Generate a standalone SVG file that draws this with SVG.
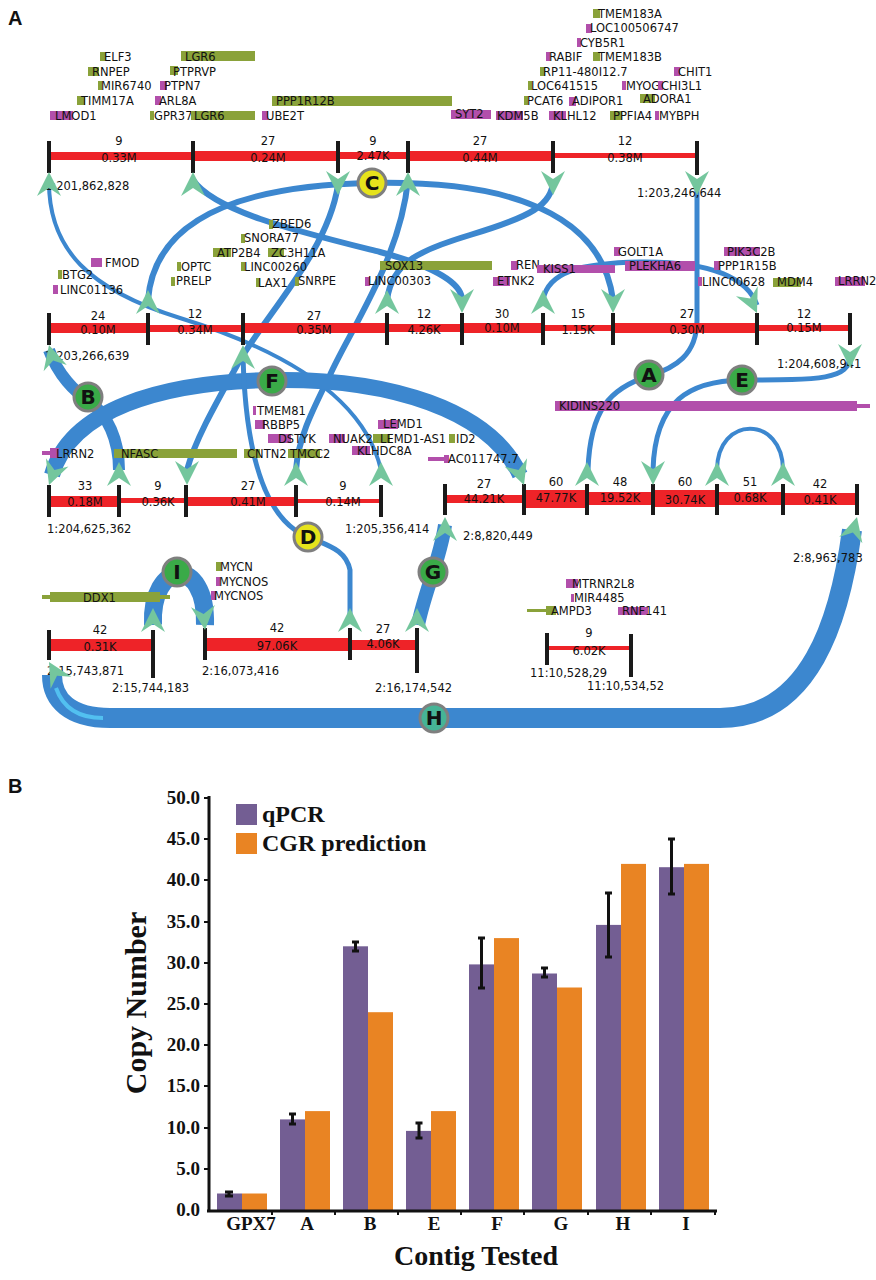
<svg xmlns="http://www.w3.org/2000/svg" width="876" height="1280" viewBox="0 0 876 1280">
<style>
.g{fill:#8aa23a}.m{fill:#b24fab}
.t{font-family:"DejaVu Sans",sans-serif;font-size:11.5px;fill:#111}
.c{text-anchor:middle}
.r{fill:#ee2328}
.k{stroke:#1a1a1a;stroke-width:4}
.cn{fill:none;stroke:#3c87cf;stroke-linecap:butt}
.ah{fill:#74c69d}
.cg{fill:#3aaa48;stroke:#7f7f7f;stroke-width:3}
.cy{fill:#e6e31c;stroke:#7f7f7f;stroke-width:3}
.ch{fill:#46b496;stroke:#7f7f7f;stroke-width:3}
.cl{font-family:"DejaVu Sans",sans-serif;font-weight:bold;font-size:20px;fill:#111;text-anchor:middle}
.pl{font-family:"Liberation Sans",sans-serif;font-weight:bold;font-size:20px;fill:#111}
.ser{font-family:"Liberation Serif",serif;font-weight:bold;fill:#111}
.pu{fill:#735e93}.or{fill:#e98423}
.eb{stroke:#111;stroke-width:3}
</style>
<defs>
<path id="ah" class="ah" d="M0,0 L12,24 L0,16 L-12,24 Z"/>
</defs>

<text class="pl" x="8" y="25">A</text>
<text class="pl" x="8" y="793">B</text>

<!-- connectors -->
<g id="connectors">
<path class="cn" stroke-width="4" d="M49,180 C48,250 90,290 180,318 C290,352 365,400 381,470"/>
<path class="cn" stroke-width="6" d="M193,180 C215,212 300,232 380,252 C440,268 462,285 462,300"/>
<path class="cn" stroke-width="6" d="M148,300 C155,210 260,185 372,183 C480,181 600,200 613,300"/>
<path class="cn" stroke-width="6" d="M338,185 C328,250 270,310 240,360 C215,405 195,440 187,470"/>
<path class="cn" stroke-width="6" d="M408,180 C400,260 350,330 330,375 C310,415 298,440 296,470"/>
<path class="cn" stroke-width="6" d="M387,300 C392,262 420,250 470,235 C530,217 553,205 553,180"/>
<path class="cn" stroke-width="5" d="M697,180 L697,320 C697,355 675,368 649,376 C610,388 590,410 588,470"/>
<path class="cn" stroke-width="5" d="M543,300 C548,272 580,263 640,262 C715,261 748,280 757,305"/>
<path class="cn" stroke-width="5" d="M850,355 C850,380 820,380 742,380 C690,381 655,400 653,470"/>
<path class="cn" stroke-width="12" d="M49,350 C58,375 75,392 88,400 C108,415 119,440 119,470"/>
<path class="cn" stroke-width="16" d="M52,475 C70,410 160,382 272,380 C390,378 490,410 520,475"/>
<path class="cn" stroke-width="5" d="M243,355 C245,440 260,505 295,530 C320,545 345,545 350,570 L350,620"/>
<path class="cn" stroke-width="4" d="M717,470 C717,415 783,415 783,470"/>
<path class="cn" stroke-width="20" d="M852,530 C840,620 810,718 720,718 L110,718 C70,718 52,700 52,675"/>
<path fill="none" stroke="#52c0f0" stroke-width="4" d="M103,718 C75,718 62,705 56,688"/>
<path class="cn" stroke-width="14" d="M445,525 C440,560 425,590 418,625"/>
<path class="cn" stroke-width="18" d="M153,625 C150,560 207,555 205,625"/>
</g>

<!-- gene annotations -->
<g id="genes">
<rect class="g" x="100" y="52" width="6" height="9"/><text class="t" x="104" y="61">ELF3</text>
<rect class="g" x="88" y="67" width="11" height="9"/><text class="t" x="92" y="76">RNPEP</text>
<rect class="g" x="98" y="81" width="4" height="9"/><text class="t" x="101" y="90">MIR6740</text>
<rect class="g" x="77" y="96" width="8" height="9"/><text class="t" x="81" y="105">TIMM17A</text>
<rect class="m" x="50" y="111" width="23" height="9"/><text class="t" x="55" y="120">LMOD1</text>
<rect class="g" x="181" y="51" width="74" height="10"/><text class="t" x="185" y="61">LGR6</text>
<rect class="g" x="170" y="66" width="8" height="9"/><text class="t" x="173" y="76">PTPRVP</text>
<rect class="m" x="160" y="81" width="7" height="9"/><text class="t" x="164" y="90">PTPN7</text>
<rect class="m" x="155" y="96" width="6" height="9"/><text class="t" x="159" y="105">ARL8A</text>
<rect class="g" x="150" y="111" width="4" height="9"/><text class="t" x="154" y="120">GPR37L1</text>
<rect class="g" x="191" y="111" width="64" height="9"/><text class="t" x="194" y="120">LGR6</text>
<rect class="g" x="272" y="96" width="180" height="10"/><text class="t" x="276" y="105">PPP1R12B</text>
<rect class="m" x="262" y="111" width="6" height="9"/><text class="t" x="266" y="120">UBE2T</text>
<rect class="m" x="451" y="110" width="40" height="9"/><text class="t" x="455" y="118">SYT2</text>
<rect class="m" x="496" y="111" width="27" height="9"/><text class="t" x="497" y="120">KDM5B</text>
<rect class="m" x="549" y="111" width="17" height="9"/><text class="t" x="553" y="120">KLHL12</text>
<rect class="g" x="610" y="111" width="12" height="9"/><text class="t" x="613" y="120">PPFIA4</text>
<rect class="m" x="655" y="111" width="4" height="9"/><text class="t" x="659" y="120">MYBPH</text>
<rect class="g" x="524" y="96" width="4" height="9"/><text class="t" x="527" y="105">PCAT6</text>
<rect class="m" x="569" y="97" width="7" height="9"/><text class="t" x="572" y="105">ADIPOR1</text>
<rect class="g" x="640" y="94" width="15" height="9"/><text class="t" x="643" y="103">ADORA1</text>
<rect class="g" x="528" y="81" width="4" height="9"/><text class="t" x="531" y="90">LOC641515</text>
<rect class="m" x="622" y="81" width="4" height="9"/><text class="t" x="626" y="90">MYOG</text>
<rect class="m" x="658" y="81" width="5" height="9"/><text class="t" x="661" y="90">CHI3L1</text>
<rect class="g" x="540" y="67" width="5" height="9"/><text class="t" x="543" y="76">RP11-480I12.7</text>
<rect class="m" x="674" y="67" width="6" height="9"/><text class="t" x="678" y="76">CHIT1</text>
<rect class="m" x="546" y="52" width="4" height="9"/><text class="t" x="549" y="61">RABIF</text>
<rect class="g" x="593" y="52" width="7" height="9"/><text class="t" x="598" y="61">TMEM183B</text>
<rect class="m" x="577" y="38" width="4" height="9"/><text class="t" x="580" y="47">CYB5R1</text>
<rect class="m" x="586" y="24" width="6" height="9"/><text class="t" x="590" y="32">LOC100506747</text>
<rect class="g" x="593" y="9" width="7" height="9"/><text class="t" x="598" y="18">TMEM183A</text>

<rect class="g" x="269" y="220" width="4" height="9"/><text class="t" x="272" y="228">ZBED6</text>
<rect class="g" x="241" y="234" width="4" height="9"/><text class="t" x="244" y="242">SNORA77</text>
<rect class="g" x="213" y="248" width="18" height="9"/><text class="t" x="217" y="257">ATP2B4</text>
<rect class="g" x="268" y="248" width="16" height="9"/><text class="t" x="271" y="257">ZC3H11A</text>
<rect class="m" x="91" y="258" width="11" height="9"/><text class="t" x="105" y="267">FMOD</text>
<rect class="g" x="177" y="262" width="4" height="9"/><text class="t" x="181" y="271">OPTC</text>
<rect class="g" x="241" y="262" width="4" height="9"/><text class="t" x="244" y="271">LINC00260</text>
<rect class="g" x="58" y="270" width="4" height="9"/><text class="t" x="62" y="279">BTG2</text>
<rect class="g" x="171" y="277" width="4" height="9"/><text class="t" x="176" y="285">PRELP</text>
<rect class="g" x="256" y="278" width="4" height="9"/><text class="t" x="258" y="287">LAX1</text>
<rect class="g" x="295" y="277" width="4" height="9"/><text class="t" x="298" y="285">SNRPE</text>
<rect class="m" x="53" y="285" width="5" height="9"/><text class="t" x="60" y="294">LINC01136</text>
<rect class="g" x="380" y="261" width="112" height="9"/><text class="t" x="385" y="270">SOX13</text>
<rect class="m" x="365" y="277" width="5" height="9"/><text class="t" x="368" y="285">LINC00303</text>
<rect class="m" x="614" y="247" width="6" height="9"/><text class="t" x="618" y="256">GOLT1A</text>
<rect class="m" x="724" y="247" width="36" height="9"/><text class="t" x="727" y="256">PIK3C2B</text>
<rect class="m" x="511" y="261" width="7" height="9"/><text class="t" x="516" y="269">REN</text>
<rect class="m" x="537" y="265" width="78" height="8"/><text class="t" x="543" y="273">KISS1</text>
<rect class="m" x="625" y="261" width="70" height="10"/><text class="t" x="629" y="270">PLEKHA6</text>
<rect class="m" x="714" y="261" width="6" height="9"/><text class="t" x="718" y="270">PPP1R15B</text>
<rect class="m" x="493" y="277" width="17" height="9"/><text class="t" x="497" y="285">ETNK2</text>
<rect class="m" x="698" y="277" width="4" height="9"/><text class="t" x="702" y="286">LINC00628</text>
<rect class="g" x="773" y="278" width="28" height="9"/><text class="t" x="777" y="286">MDM4</text>
<rect class="m" x="835" y="277" width="30" height="9"/><text class="t" x="838" y="285">LRRN2</text>

<rect class="m" x="253" y="406" width="3" height="9"/><text class="t" x="257" y="415">TMEM81</text>
<rect class="m" x="255" y="420" width="10" height="9"/><text class="t" x="262" y="429">RBBP5</text>
<rect class="m" x="378" y="420" width="20" height="9"/><text class="t" x="383" y="428">LEMD1</text>
<rect class="m" x="268" y="434" width="23" height="9"/><text class="t" x="278" y="443">DSTYK</text>
<rect class="m" x="329" y="434" width="16" height="9"/><text class="t" x="333" y="443">NUAK2</text>
<rect class="g" x="373" y="434" width="17" height="9"/><text class="t" x="380" y="443">LEMD1-AS1</text>
<rect class="g" x="449" y="434" width="6" height="9"/><text class="t" x="456" y="443">ID2</text>
<rect class="m" x="352" y="446" width="18" height="9"/><text class="t" x="357" y="455">KLHDC8A</text>
<rect class="m" x="42" y="451" width="10" height="4"/><rect class="m" x="50" y="448" width="9" height="10"/><text class="t" x="56" y="458">LRRN2</text>
<rect class="g" x="114" y="449" width="123" height="9"/><text class="t" x="121" y="458">NFASC</text>
<rect class="g" x="244" y="449" width="16" height="9"/><text class="t" x="247" y="458">CNTN2</text>
<rect class="g" x="288" y="449" width="32" height="9"/><text class="t" x="290" y="458">TMCC2</text>
<rect class="m" x="428" y="457" width="18" height="4"/><rect class="m" x="444" y="455" width="5" height="8"/><text class="t" x="448" y="463">AC011747.7</text>
<rect class="m" x="555" y="401" width="302" height="10"/><rect class="m" x="855" y="404" width="15" height="4"/><text class="t" x="559" y="410">KIDINS220</text>

<rect class="g" x="42" y="595" width="128" height="4"/><rect class="g" x="50" y="592" width="110" height="10"/><text class="t" x="83" y="602">DDX1</text>
<rect class="g" x="216" y="562" width="5" height="9"/><text class="t" x="220" y="571">MYCN</text>
<rect class="m" x="216" y="577" width="4" height="9"/><text class="t" x="219" y="586">MYCNOS</text>
<rect class="m" x="211" y="591" width="5" height="9"/><text class="t" x="214" y="600">MYCNOS</text>
<rect class="m" x="566" y="579" width="12" height="9"/><text class="t" x="572" y="588">MTRNR2L8</text>
<rect class="m" x="571" y="594" width="3" height="8"/><text class="t" x="574" y="602">MIR4485</text>
<rect class="g" x="527" y="609" width="20" height="3"/><rect class="g" x="546" y="606" width="10" height="9"/><text class="t" x="551" y="615">AMPD3</text>
<rect class="m" x="618" y="607" width="30" height="8"/><text class="t" x="622" y="615">RNF141</text>
</g>

<!-- tracks -->
<g id="track1">
<rect class="r" x="49" y="152" width="144" height="8"/>
<rect class="r" x="193" y="151" width="145" height="10"/>
<rect class="r" x="338" y="152" width="70" height="7"/>
<rect class="r" x="408" y="151" width="145" height="10"/>
<rect class="r" x="553" y="153" width="144" height="5"/>
<path class="k" d="M49,141V173M193,141V173M338,141V173M408,141V173M553,141V173M697,141V175"/>
<text class="t c" x="119" y="145">9</text><text class="t c" x="119" y="162">0.33M</text>
<text class="t c" x="268" y="145">27</text><text class="t c" x="268" y="162">0.24M</text>
<text class="t c" x="373" y="145">9</text><text class="t c" x="373" y="160">2.47K</text>
<text class="t c" x="480" y="145">27</text><text class="t c" x="480" y="162">0.44M</text>
<text class="t c" x="625" y="145">12</text><text class="t c" x="625" y="162">0.38M</text>
<text class="t" x="45" y="190">1:201,862,828</text>
<text class="t" x="637" y="197">1:203,246,644</text>
</g>
<g id="track2">
<rect class="r" x="49" y="323" width="99" height="10"/>
<rect class="r" x="148" y="325" width="95" height="7"/>
<rect class="r" x="243" y="323" width="144" height="10"/>
<rect class="r" x="387" y="324" width="75" height="8"/>
<rect class="r" x="462" y="323" width="81" height="10"/>
<rect class="r" x="543" y="325" width="70" height="6"/>
<rect class="r" x="613" y="323" width="144" height="10"/>
<rect class="r" x="757" y="325" width="93" height="6"/>
<path class="k" d="M49,313V345M148,313V345M243,313V345M387,313V345M462,313V345M543,313V345M613,313V345M757,313V345M850,313V345"/>
<text class="t c" x="98" y="320">24</text><text class="t c" x="98" y="334">0.10M</text>
<text class="t c" x="195" y="318">12</text><text class="t c" x="195" y="334">0.34M</text>
<text class="t c" x="314" y="320">27</text><text class="t c" x="314" y="334">0.35M</text>
<text class="t c" x="424" y="318">12</text><text class="t c" x="424" y="334">4.26K</text>
<text class="t c" x="502" y="318">30</text><text class="t c" x="502" y="332">0.10M</text>
<text class="t c" x="578" y="318">15</text><text class="t c" x="578" y="334">1.15K</text>
<text class="t c" x="687" y="318">27</text><text class="t c" x="687" y="334">0.30M</text>
<text class="t c" x="804" y="318">12</text><text class="t c" x="804" y="332">0.15M</text>
<text class="t" x="45" y="360">1:203,266,639</text>
<text class="t" x="777" y="368">1:204,608,941</text>
</g>
<g id="track3">
<rect class="r" x="49" y="496" width="70" height="11"/>
<rect class="r" x="119" y="498" width="67" height="5"/>
<rect class="r" x="186" y="497" width="110" height="9"/>
<rect class="r" x="296" y="499" width="85" height="4"/>
<path class="k" d="M49,485V517M119,485V517M186,485V517M296,485V517M381,485V517"/>
<text class="t c" x="85" y="490">33</text><text class="t c" x="85" y="506">0.18M</text>
<text class="t c" x="158" y="490">9</text><text class="t c" x="158" y="506">0.36K</text>
<text class="t c" x="248" y="490">27</text><text class="t c" x="248" y="506">0.41M</text>
<text class="t c" x="343" y="490">9</text><text class="t c" x="343" y="506">0.14M</text>
<text class="t" x="47" y="533">1:204,625,362</text>
<text class="t" x="345" y="533">1:205,356,414</text>
</g>
<g id="track4">
<rect class="r" x="445" y="495" width="79" height="8"/>
<rect class="r" x="524" y="490" width="63" height="18"/>
<rect class="r" x="587" y="492" width="66" height="13"/>
<rect class="r" x="653" y="490" width="64" height="17"/>
<rect class="r" x="717" y="492" width="66" height="13"/>
<rect class="r" x="783" y="493" width="74" height="12"/>
<path class="k" d="M445,484V515M524,484V515M587,484V515M653,484V515M717,484V515M783,484V515M857,484V515"/>
<text class="t c" x="484" y="488">27</text><text class="t c" x="484" y="503">44.21K</text>
<text class="t c" x="556" y="486">60</text><text class="t c" x="556" y="502">47.77K</text>
<text class="t c" x="620" y="486">48</text><text class="t c" x="620" y="502">19.52K</text>
<text class="t c" x="685" y="486">60</text><text class="t c" x="685" y="504">30.74K</text>
<text class="t c" x="750" y="486">51</text><text class="t c" x="750" y="502">0.68K</text>
<text class="t c" x="820" y="488">42</text><text class="t c" x="820" y="504">0.41K</text>
<text class="t" x="463" y="540">2:8,820,449</text>
<text class="t" x="793" y="562">2:8,963,783</text>
</g>
<g id="track5">
<rect class="r" x="49" y="639" width="104" height="12"/>
<rect class="r" x="205" y="638" width="145" height="13"/>
<rect class="r" x="350" y="640" width="67" height="10"/>
<path class="k" d="M49,630V660M153,630V678M205,628V660M350,628V660M417,628V673"/>
<text class="t c" x="100" y="634">42</text><text class="t c" x="100" y="651">0.31K</text>
<text class="t c" x="277" y="632">42</text><text class="t c" x="277" y="650">97.06K</text>
<text class="t c" x="383" y="633">27</text><text class="t c" x="383" y="648">4.06K</text>
<text class="t" x="47" y="675">2:15,743,871</text>
<text class="t" x="112" y="692">2:15,744,183</text>
<text class="t" x="202" y="675">2:16,073,416</text>
<text class="t" x="375" y="692">2:16,174,542</text>
</g>
<g id="track6">
<rect class="r" x="547" y="646" width="84" height="4"/>
<path class="k" d="M547,633V665M631,634V677"/>
<text class="t c" x="589" y="637">9</text><text class="t c" x="589" y="655">6.02K</text>
<text class="t" x="530" y="677">11:10,528,29</text>
<text class="t" x="587" y="690">11:10,534,52</text>
</g>

<g id="arrows">
<use href="#ah" transform="translate(49,172)"/>
<use href="#ah" transform="translate(193,172)"/>
<use href="#ah" transform="translate(408,172)"/>
<use href="#ah" transform="translate(338,195) rotate(180)"/>
<use href="#ah" transform="translate(553,195) rotate(180)"/>
<use href="#ah" transform="translate(697,195) rotate(180)"/>
<use href="#ah" transform="translate(49,345) rotate(-15)"/>
<use href="#ah" transform="translate(148,290)"/>
<use href="#ah" transform="translate(243,345)"/>
<use href="#ah" transform="translate(387,290)"/>
<use href="#ah" transform="translate(543,290)"/>
<use href="#ah" transform="translate(462,313) rotate(180)"/>
<use href="#ah" transform="translate(613,313) rotate(180)"/>
<use href="#ah" transform="translate(757,313) rotate(155)"/>
<use href="#ah" transform="translate(850,368) rotate(180)"/>
<use href="#ah" transform="translate(49,485) rotate(200)"/>
<use href="#ah" transform="translate(187,485) rotate(180)"/>
<use href="#ah" transform="translate(524,485) rotate(160)"/>
<use href="#ah" transform="translate(653,485) rotate(180)"/>
<use href="#ah" transform="translate(119,462)"/>
<use href="#ah" transform="translate(296,462)"/>
<use href="#ah" transform="translate(381,462)"/>
<use href="#ah" transform="translate(587,462)"/>
<use href="#ah" transform="translate(717,462)"/>
<use href="#ah" transform="translate(783,462)"/>
<use href="#ah" transform="translate(445,517)"/>
<use href="#ah" transform="translate(857,517) rotate(15)"/>
<use href="#ah" transform="translate(49,662) rotate(-30)"/>
<use href="#ah" transform="translate(153,608)"/>
<use href="#ah" transform="translate(350,608)"/>
<use href="#ah" transform="translate(417,608)"/>
<use href="#ah" transform="translate(205,630) rotate(175)"/>
</g>

<g id="node-C"><circle class="cy" cx="372" cy="183" r="14"/><text class="cl" x="372" y="190">C</text></g>
<g id="node-F"><circle class="cg" cx="272" cy="381" r="14"/><text class="cl" x="272" y="388">F</text></g>
<g id="node-B"><circle class="cg" cx="88" cy="397" r="14"/><text class="cl" x="88" y="404">B</text></g>
<g id="node-A"><circle class="cg" cx="649" cy="375" r="14"/><text class="cl" x="649" y="382">A</text></g>
<g id="node-E"><circle class="cg" cx="742" cy="380" r="14"/><text class="cl" x="742" y="387">E</text></g>
<g id="node-D"><circle class="cy" cx="308" cy="537" r="14"/><text class="cl" x="308" y="544">D</text></g>
<g id="node-I"><circle class="cg" cx="177" cy="572" r="14"/><text class="cl" x="177" y="579">I</text></g>
<g id="node-G"><circle class="cg" cx="433" cy="572" r="14"/><text class="cl" x="433" y="579">G</text></g>
<g id="node-H"><circle class="ch" cx="434" cy="718" r="14"/><text class="cl" x="434" y="725">H</text></g>

<!-- chart B -->
<g id="chart">
<g class="ser" font-size="19" text-anchor="end">
<text x="200" y="1216">0.0</text>
<text x="200" y="1175">5.0</text>
<text x="200" y="1134">10.0</text>
<text x="200" y="1092">15.0</text>
<text x="200" y="1051">20.0</text>
<text x="200" y="1010">25.0</text>
<text x="200" y="969">30.0</text>
<text x="200" y="928">35.0</text>
<text x="200" y="886">40.0</text>
<text x="200" y="845">45.0</text>
<text x="200" y="804">50.0</text>
</g>
<g id="bars">
<rect class="pu" x="217" y="1193.5" width="25" height="16.5"/><rect class="or" x="242" y="1193.5" width="25" height="16.5"/>
<rect class="pu" x="280" y="1119.4" width="25" height="90.6"/><rect class="or" x="305" y="1111.1" width="25" height="98.9"/>
<rect class="pu" x="343" y="946.3" width="25" height="263.7"/><rect class="or" x="368" y="1012.2" width="25" height="197.8"/>
<rect class="pu" x="406" y="1130.9" width="25" height="79.1"/><rect class="or" x="431" y="1111.1" width="25" height="98.9"/>
<rect class="pu" x="469" y="964.4" width="25" height="245.6"/><rect class="or" x="494" y="938.1" width="25" height="271.9"/>
<rect class="pu" x="532" y="973.5" width="25" height="236.5"/><rect class="or" x="557" y="987.5" width="25" height="222.5"/>
<rect class="pu" x="596" y="924.9" width="25" height="285.1"/><rect class="or" x="621" y="863.9" width="25" height="346.1"/>
<rect class="pu" x="659" y="867.2" width="25" height="342.8"/><rect class="or" x="684" y="863.9" width="25" height="346.1"/>
</g>
<g id="errorbars">
<path class="eb" d="M229,1192V1196M225,1192H233M225,1196H233"/>
<path class="eb" d="M292.5,1114V1124M289,1114H296M289,1124H296"/>
<path class="eb" d="M355.5,942V951M352,942H359M352,951H359"/>
<path class="eb" d="M419,1123V1138M415.5,1123H422.5M415.5,1138H422.5"/>
<path class="eb" d="M481.5,938V988M478,938H485M478,988H485"/>
<path class="eb" d="M544.5,968V977M541,968H548M541,977H548"/>
<path class="eb" d="M608.5,893V957M605,893H612M605,957H612"/>
<path class="eb" d="M671.5,839V894M668,839H675M668,894H675"/>
</g>
<path stroke="#111" stroke-width="3" fill="none" d="M209,796V1211M207,1211H717"/>
<path stroke="#111" stroke-width="2" d="M204,798H209M204,839H209M204,880H209M204,922H209M204,963H209M204,1004H209M204,1045H209M204,1086H209M204,1128H209M204,1169H209M272,1211V1215M335,1211V1215M398,1211V1215M461,1211V1215M524,1211V1215M588,1211V1215M651,1211V1215M715,1211V1215"/>
<g class="ser" font-size="19" text-anchor="middle">
<text x="251" y="1230">GPX7</text>
<text x="307" y="1230">A</text>
<text x="370" y="1230">B</text>
<text x="434" y="1230">E</text>
<text x="497" y="1230">F</text>
<text x="561" y="1230">G</text>
<text x="623" y="1230">H</text>
<text x="686" y="1230">I</text>
</g>
<rect class="pu" x="236" y="804" width="21" height="21"/>
<text class="ser" font-size="24" x="262" y="822">qPCR</text>
<rect class="or" x="236" y="833" width="21" height="21"/>
<text class="ser" font-size="24" x="262" y="851">CGR prediction</text>
<text class="ser" font-size="30" text-anchor="middle" transform="translate(146,1003) rotate(-90)">Copy Number</text>
<text class="ser" font-size="28" text-anchor="middle" x="476" y="1265">Contig Tested</text>
</g>
</svg>
